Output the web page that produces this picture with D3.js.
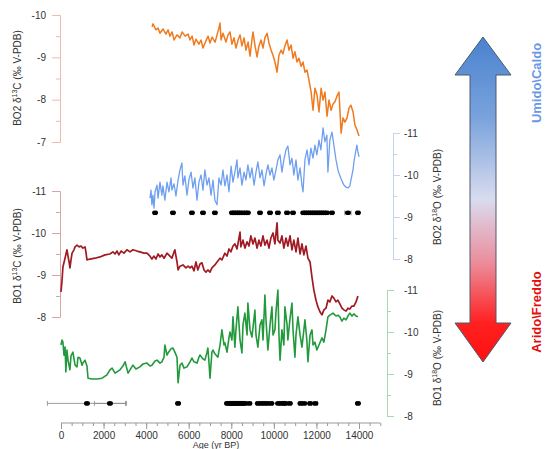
<!DOCTYPE html>
<html>
<head>
<meta charset="utf-8">
<script src="https://cdn.jsdelivr.net/npm/d3@7"></script>
<style>
  body { margin: 0; background: #fff; }
  svg { display: block; font-family: "Liberation Sans", Arial, sans-serif; }
</style>
</head>
<body>
<svg id="chart" width="545" height="449"></svg>
<script>
// BO2 delta13C  [age yr BP, per mil]
var bo2C = [[4280,-9.72],[4320,-9.79],[4460,-9.65],[4560,-9.69],[4650,-9.57],[4790,-9.67],[4930,-9.55],[5030,-9.65],[5120,-9.50],[5220,-9.60],[5310,-9.41],[5450,-9.53],[5590,-9.46],[5690,-9.60],[5830,-9.50],[5970,-9.55],[6060,-9.41],[6160,-9.50],[6250,-9.29],[6340,-9.43],[6480,-9.31],[6580,-9.41],[6670,-9.22],[6810,-9.39],[6910,-9.50],[7000,-9.34],[7100,-9.48],[7240,-9.36],[7330,-9.53],[7420,-9.69],[7470,-9.81],[7520,-9.41],[7610,-9.57],[7750,-9.36],[7850,-9.53],[7940,-9.60],[8030,-9.31],[8130,-9.46],[8220,-9.22],[8320,-9.41],[8410,-9.53],[8500,-9.27],[8600,-9.46],[8690,-9.17],[8790,-9.36],[8880,-9.03],[8970,-9.41],[9020,-9.60],[9110,-9.29],[9210,-9.01],[9300,-9.27],[9400,-9.41],[9490,-9.22],[9580,-9.46],[9680,-9.57],[9770,-9.34],[9870,-9.17],[9960,-9.05],[10050,-8.89],[10150,-8.65],[10240,-9.05],[10340,-9.17],[10430,-9.08],[10520,-9.27],[10620,-9.41],[10710,-9.17],[10810,-9.29],[10900,-8.98],[10990,-9.13],[11090,-8.89],[11180,-8.98],[11280,-8.79],[11370,-8.89],[11460,-8.65],[11560,-8.70],[11650,-8.46],[11750,-8.18],[11840,-7.75],[11930,-8.27],[12030,-8.11],[12120,-7.71],[12220,-8.27],[12310,-7.99],[12400,-8.18],[12500,-7.61],[12590,-7.99],[12690,-7.75],[12780,-7.90],[12870,-7.95],[12970,-8.09],[13060,-8.18],[13160,-7.21],[13250,-7.57],[13340,-7.47],[13440,-7.57],[13530,-7.80],[13620,-7.87],[13720,-7.71],[13810,-7.40],[13910,-7.28],[14000,-7.14]];

// BO2 delta18O
var bo2O = [[4180,-9.45],[4230,-9.64],[4270,-9.29],[4320,-9.52],[4370,-9.21],[4420,-9.60],[4510,-9.76],[4560,-9.45],[4650,-9.83],[4740,-9.52],[4790,-9.74],[4880,-9.40],[4980,-9.83],[5070,-9.60],[5170,-9.93],[5210,-9.64],[5310,-9.79],[5400,-9.50],[5500,-9.88],[5590,-10.12],[5680,-10.29],[5730,-9.76],[5820,-9.98],[5920,-9.52],[6010,-9.88],[6110,-10.07],[6200,-9.69],[6290,-9.93],[6390,-9.40],[6480,-9.83],[6580,-10.00],[6670,-9.64],[6760,-10.12],[6860,-9.76],[6950,-9.93],[7050,-9.52],[7140,-9.88],[7230,-9.40],[7330,-9.29],[7420,-9.93],[7520,-9.76],[7610,-10.12],[7700,-9.74],[7800,-10.00],[7890,-9.60],[7990,-10.21],[8080,-9.83],[8170,-10.07],[8270,-10.36],[8310,-9.93],[8410,-10.17],[8500,-9.76],[8600,-10.07],[8690,-9.88],[8780,-10.24],[8880,-9.93],[8970,-10.17],[9070,-9.76],[9160,-10.07],[9250,-10.31],[9350,-9.93],[9440,-10.12],[9540,-9.74],[9630,-10.02],[9720,-10.24],[9820,-10.00],[9910,-10.17],[10000,-9.88],[10100,-10.12],[10190,-10.36],[10290,-10.48],[10380,-10.07],[10470,-10.36],[10570,-10.60],[10660,-10.69],[10760,-10.24],[10850,-10.40],[10940,-10.00],[11040,-10.36],[11130,-9.88],[11230,-10.17],[11320,-9.76],[11370,-9.60],[11460,-10.36],[11560,-10.60],[11650,-10.24],[11740,-10.64],[11840,-10.40],[11930,-10.71],[12020,-10.48],[12120,-10.83],[12210,-10.60],[12310,-11.12],[12400,-10.79],[12490,-10.95],[12540,-10.07],[12630,-10.83],[12730,-11.02],[12820,-10.71],[12920,-10.36],[13010,-10.12],[13100,-9.98],[13200,-9.86],[13290,-9.76],[13390,-9.71],[13480,-9.69],[13570,-9.74],[13620,-9.88],[13720,-10.12],[13760,-10.31],[13860,-10.60],[13900,-10.71],[13950,-10.55],[14000,-10.43]];

// BO1 delta13C
var bo1C = [[0,-8.60],[50,-8.88],[90,-9.19],[190,-9.40],[280,-9.60],[330,-9.45],[380,-9.31],[420,-9.17],[470,-9.36],[520,-9.52],[610,-9.60],[660,-9.67],[750,-9.71],[850,-9.67],[940,-9.69],[1030,-9.64],[1130,-9.67],[1170,-9.55],[1220,-9.36],[1360,-9.38],[1600,-9.40],[1830,-9.43],[2070,-9.48],[2300,-9.50],[2440,-9.55],[2540,-9.50],[2630,-9.57],[2720,-9.48],[2820,-9.57],[2960,-9.52],[3100,-9.60],[3240,-9.55],[3380,-9.60],[3570,-9.57],[3710,-9.55],[3900,-9.52],[4040,-9.52],[4180,-9.45],[4270,-9.38],[4370,-9.45],[4460,-9.38],[4560,-9.50],[4650,-9.43],[4740,-9.48],[4840,-9.40],[4980,-9.52],[5120,-9.45],[5210,-9.40],[5310,-9.55],[5350,-9.60],[5450,-9.31],[5500,-9.12],[5590,-9.21],[5730,-9.24],[5870,-9.17],[5970,-9.21],[6060,-9.17],[6150,-9.21],[6250,-9.10],[6340,-9.31],[6430,-9.12],[6530,-9.26],[6620,-9.29],[6720,-9.12],[6810,-9.07],[6900,-9.12],[7000,-9.07],[7090,-9.17],[7230,-9.24],[7330,-9.31],[7470,-9.40],[7560,-9.36],[7700,-9.52],[7800,-9.45],[7890,-9.62],[7980,-9.55],[8080,-9.69],[8170,-9.74],[8270,-9.62],[8360,-9.88],[8410,-10.02],[8450,-9.67],[8550,-9.83],[8640,-9.64],[8740,-9.79],[8830,-9.69],[8920,-9.93],[9020,-9.74],[9110,-9.88],[9210,-9.64],[9300,-9.83],[9390,-9.69],[9490,-9.93],[9580,-9.71],[9680,-9.83],[9770,-9.64],[9860,-9.88],[9960,-10.00],[10050,-9.74],[10150,-10.24],[10190,-9.83],[10290,-9.76],[10380,-9.93],[10470,-9.64],[10570,-9.88],[10660,-9.69],[10760,-9.93],[10850,-9.60],[10940,-9.83],[11040,-9.55],[11130,-9.88],[11230,-9.50],[11320,-9.74],[11410,-9.48],[11510,-9.69],[11600,-9.40],[11700,-9.31],[11790,-8.95],[11880,-8.64],[11980,-8.40],[12070,-8.24],[12170,-8.12],[12260,-8.05],[12350,-8.17],[12450,-8.21],[12540,-8.40],[12630,-8.36],[12730,-8.50],[12820,-8.45],[12920,-8.36],[13010,-8.40],[13100,-8.31],[13200,-8.21],[13290,-8.17],[13390,-8.14],[13480,-8.21],[13570,-8.19],[13670,-8.26],[13760,-8.26],[13860,-8.36],[13950,-8.50]];

// BO1 delta18O
var bo1O = [[0,-9.69],[50,-9.81],[90,-9.76],[140,-9.45],[190,-9.64],[230,-9.05],[280,-9.57],[330,-9.33],[420,-9.10],[470,-9.43],[560,-9.52],[660,-9.21],[750,-9.17],[800,-9.40],[890,-9.38],[990,-9.21],[1030,-9.26],[1130,-9.33],[1220,-9.19],[1270,-8.90],[1460,-8.88],[1690,-8.88],[1930,-8.90],[2160,-8.98],[2300,-9.10],[2400,-9.14],[2540,-9.02],[2680,-9.07],[2770,-9.10],[2910,-9.19],[3010,-9.29],[3150,-9.02],[3290,-9.14],[3380,-9.21],[3520,-9.12],[3710,-9.17],[3850,-9.24],[4040,-9.26],[4180,-9.19],[4270,-9.21],[4420,-9.31],[4510,-9.33],[4650,-9.26],[4740,-9.29],[4840,-9.40],[4880,-9.69],[4980,-9.45],[5030,-9.50],[5170,-9.60],[5260,-9.62],[5350,-9.52],[5450,-9.40],[5500,-8.79],[5590,-9.21],[5680,-9.26],[5780,-9.14],[5920,-9.17],[6060,-9.29],[6150,-9.38],[6250,-9.29],[6390,-9.26],[6480,-9.40],[6530,-9.45],[6670,-9.36],[6760,-9.33],[6860,-9.52],[6900,-9.62],[6950,-9.29],[7000,-8.90],[7090,-9.52],[7140,-9.57],[7230,-9.48],[7370,-9.40],[7470,-9.69],[7560,-10.05],[7660,-9.69],[7700,-9.74],[7800,-9.52],[7890,-9.86],[7940,-10.00],[8030,-9.81],[8080,-10.36],[8170,-9.64],[8220,-10.05],[8310,-10.60],[8410,-9.81],[8500,-9.50],[8550,-10.17],[8640,-10.45],[8740,-9.93],[8780,-10.69],[8880,-10.05],[8970,-9.88],[9070,-10.33],[9110,-10.52],[9160,-9.93],[9250,-9.64],[9350,-10.17],[9440,-10.29],[9490,-9.81],[9580,-10.88],[9630,-10.29],[9720,-9.57],[9820,-10.17],[9910,-10.60],[9960,-9.93],[10050,-10.05],[10100,-10.48],[10190,-11.00],[10240,-9.93],[10290,-9.33],[10380,-10.05],[10470,-9.69],[10520,-10.60],[10620,-10.17],[10660,-9.81],[10760,-10.33],[10850,-10.69],[10900,-10.05],[10990,-9.40],[11040,-9.93],[11130,-10.36],[11230,-9.93],[11320,-9.64],[11410,-10.05],[11460,-10.29],[11550,-9.81],[11600,-9.29],[11700,-9.93],[11790,-10.05],[11840,-9.69],[11930,-9.76],[12020,-9.57],[12120,-9.69],[12260,-9.86],[12350,-9.76],[12450,-10.05],[12540,-10.36],[12630,-10.40],[12780,-10.45],[12920,-10.38],[13010,-10.40],[13100,-10.36],[13200,-10.26],[13290,-10.33],[13390,-10.29],[13480,-10.38],[13570,-10.45],[13670,-10.38],[13760,-10.43],[13860,-10.38],[13950,-10.36]];

// U-Th dates (age, 2 sigma error)
var bo2Dates = [4420, 5260, 6150, 6670, 7230, 8030, 8130, 8230, 8330, 8430, 8550, 8680, 8780, 9350, 9820, 10190, 10620, 10900, 11380, 11480, 11580, 11680, 11780, 11880, 11980, 12080, 12180, 12280, 12380, 12490, 12730, 13480, 13950];
var bo2DateErr = [60, 60, 60, 60, 60, 60, 60, 60, 60, 60, 60, 60, 60, 60, 60, 80, 80, 60, 60, 60, 60, 60, 60, 60, 60, 60, 60, 60, 60, 60, 60, 150, 60];
var bo1Dates = [1220, 2300, 5500, 7800, 7900, 7980, 8050, 8120, 8180, 8250, 8320, 8400, 8480, 8560, 8650, 8850, 9250, 9400, 9550, 9700, 9880, 10200, 10330, 10450, 10550, 10750, 11250, 11420, 11700, 11950, 13950];
var bo1DateErr = [1860, 730, 60, 60, 60, 60, 60, 60, 60, 60, 60, 60, 60, 60, 60, 80, 60, 60, 60, 60, 60, 280, 60, 60, 60, 60, 60, 100, 60, 100, 60];

var ageTicks = [0, 2000, 4000, 6000, 8000, 10000, 12000, 14000];
var bo2CTicks = [-10, -9, -8, -7];
var oTicks = [-11, -10, -9, -8];

var svg = d3.select("#chart");

var x = d3.scaleLinear().domain([0, 14000]).range([61, 359]);
var yBo2C = d3.scaleLinear().domain([-10, -7]).range([15, 142]);
var yBo1C = d3.scaleLinear().domain([-11, -8]).range([191, 317]);
var yBo2O = d3.scaleLinear().domain([-11, -8]).range([133, 259]);
var yBo1O = d3.scaleLinear().domain([-11, -8]).range([290, 416]);

function halves(t) {
  var out = [];
  for (var i = 0; i < t.length - 1; i++) out.push((t[i] + t[i + 1]) / 2);
  return out;
}

// vertical axis with major + minor ticks
function vAxis(scale, ticks, xPos, side, color, size, pad) {
  var mk = side == "left" ? d3.axisLeft : d3.axisRight;
  var g = svg.append("g").attr("transform", "translate(" + xPos + ",0)");
  g.call(mk(scale).tickValues(ticks).tickSize(size).tickSizeOuter(0)
    .tickPadding(pad).tickFormat(function(d) { return String(d); }));
  g.append("g").call(mk(scale).tickValues(halves(ticks)).tickSize(4)
    .tickSizeOuter(0).tickFormat(""));
  g.selectAll("path,line").attr("stroke", color).attr("stroke-width", 1);
  g.selectAll("text").attr("fill", "#333").attr("font-size", "10px")
    .attr("font-family", "Liberation Sans, Arial, sans-serif");
  return g;
}

vAxis(yBo2C, bo2CTicks, 60, "left", "#f3b9ae", 8, 6);
vAxis(yBo1C, oTicks, 60, "left", "#d9a6a6", 8, 6);
vAxis(yBo2O, oTicks, 393, "right", "#c3d3f0", 7, 4);
vAxis(yBo1O, oTicks, 387, "right", "#a9d8b2", 7, 10);

// age axis
var minorAges = d3.range(0, 15001, 500);
var ax = svg.append("g").attr("transform", "translate(0,423)");
ax.append("line").attr("x1", x(0)).attr("x2", x(15000)).attr("stroke", "#999");
ax.append("g").call(d3.axisBottom(x).tickValues(minorAges).tickSize(3)
  .tickSizeOuter(0).tickFormat(""));
ax.append("g").call(d3.axisBottom(x).tickValues(ageTicks).tickSize(6)
  .tickSizeOuter(0).tickPadding(3).tickFormat(function(d) { return String(d); }));
ax.selectAll("path").remove();
ax.selectAll("line").attr("stroke", "#999");
ax.selectAll("text").attr("fill", "#333").attr("font-size", "10px")
  .attr("font-family", "Liberation Sans, Arial, sans-serif");

svg.append("text").attr("x", 216).attr("y", 448).attr("text-anchor", "middle")
  .attr("font-size", "9px").attr("fill", "#333").text("Age (yr BP)");

// axis titles
function vTitle(cx, cy, pre, sup, post) {
  var t = svg.append("text")
    .attr("transform", "translate(" + cx + "," + cy + ") rotate(-90)")
    .attr("text-anchor", "middle").attr("font-size", "10px").attr("fill", "#333");
  t.append("tspan").text(pre);
  t.append("tspan").attr("font-size", "7px").attr("dy", -4).text(sup);
  t.append("tspan").attr("dy", 4).text(post);
}
vTitle(21, 78, "BO2 \u03b4", "13", "C (\u2030 V-PDB)");
vTitle(21, 256, "BO1 \u03b4", "13", "C (\u2030 V-PDB)");
vTitle(441, 197, "BO2 \u03b4", "18", "O (\u2030 V-PDB)");
vTitle(441, 358, "BO1 \u03b4", "18", "O (\u2030 V-PDB)");

// series
function series(data, yScale, color, w) {
  svg.append("path").datum(data)
    .attr("fill", "none").attr("stroke", color).attr("stroke-width", w)
    .attr("stroke-linejoin", "round")
    .attr("d", d3.line().x(function(d) { return x(d[0]); })
      .y(function(d) { return yScale(d[1]); }));
}
series(bo2C, yBo2C, "#f07a1e", 1.5);
series(bo2O, yBo2O, "#6f9ff0", 1.3);
series(bo1C, yBo1C, "#a01a22", 1.7);
series(bo1O, yBo1O, "#22993c", 1.6);

// dating rows
function dateRow(ages, errs, yPos) {
  var g = svg.append("g");
  ages.forEach(function(a, i) {
    var x0 = x(a - errs[i]), x1 = x(a + errs[i]);
    g.append("line").attr("x1", x0).attr("x2", x1).attr("y1", yPos).attr("y2", yPos)
      .attr("stroke", "#888").attr("stroke-width", 0.8);
    [x0, x1].forEach(function(xx) {
      g.append("line").attr("x1", xx).attr("x2", xx).attr("y1", yPos - 2.5).attr("y2", yPos + 2.5)
        .attr("stroke", "#888").attr("stroke-width", 0.8);
    });
  });
  g.selectAll("ellipse").data(ages).enter().append("ellipse")
    .attr("cx", function(d) { return x(d); }).attr("cy", yPos)
    .attr("rx", 3).attr("ry", 2.3).attr("fill", "#000");
}
dateRow(bo2Dates, bo2DateErr, yBo2O(-9.1));
dateRow(bo1Dates, bo1DateErr, yBo1O(-8.3));

// climate arrow
var defs = svg.append("defs");
var grad = defs.append("linearGradient").attr("id", "arrowGrad")
  .attr("x1", 0).attr("y1", 0).attr("x2", 0).attr("y2", 1);
grad.append("stop").attr("offset", "0%").attr("stop-color", "#4a82cf");
grad.append("stop").attr("offset", "25%").attr("stop-color", "#7aa3dc");
grad.append("stop").attr("offset", "50%").attr("stop-color", "#d9dcef");
grad.append("stop").attr("offset", "70%").attr("stop-color", "#ec8a98");
grad.append("stop").attr("offset", "88%").attr("stop-color", "#ff2020");
grad.append("stop").attr("offset", "100%").attr("stop-color", "#ff1010");

var ac = 483;
var arrowPts = [[ac, 37], [ac + 28, 75], [ac + 13, 75], [ac + 13, 323], [ac + 28, 323],
  [ac, 362], [ac - 28, 323], [ac - 13, 323], [ac - 13, 75], [ac - 28, 75]];
svg.append("polygon").attr("points", arrowPts.map(function(p) { return p.join(","); }).join(" "))
  .attr("fill", "url(#arrowGrad)").attr("stroke", "#4d5870").attr("stroke-width", 1);

svg.append("text").attr("transform", "translate(541,83) rotate(-90)")
  .attr("text-anchor", "middle").attr("font-size", "13px").attr("font-weight", "bold")
  .attr("fill", "#6b97e8").text("Umido\\Caldo");
svg.append("text").attr("transform", "translate(541,312) rotate(-90)")
  .attr("text-anchor", "middle").attr("font-size", "13px").attr("font-weight", "bold")
  .attr("fill", "#e01010").text("Arido\\Freddo");
</script>
</body>
</html>
